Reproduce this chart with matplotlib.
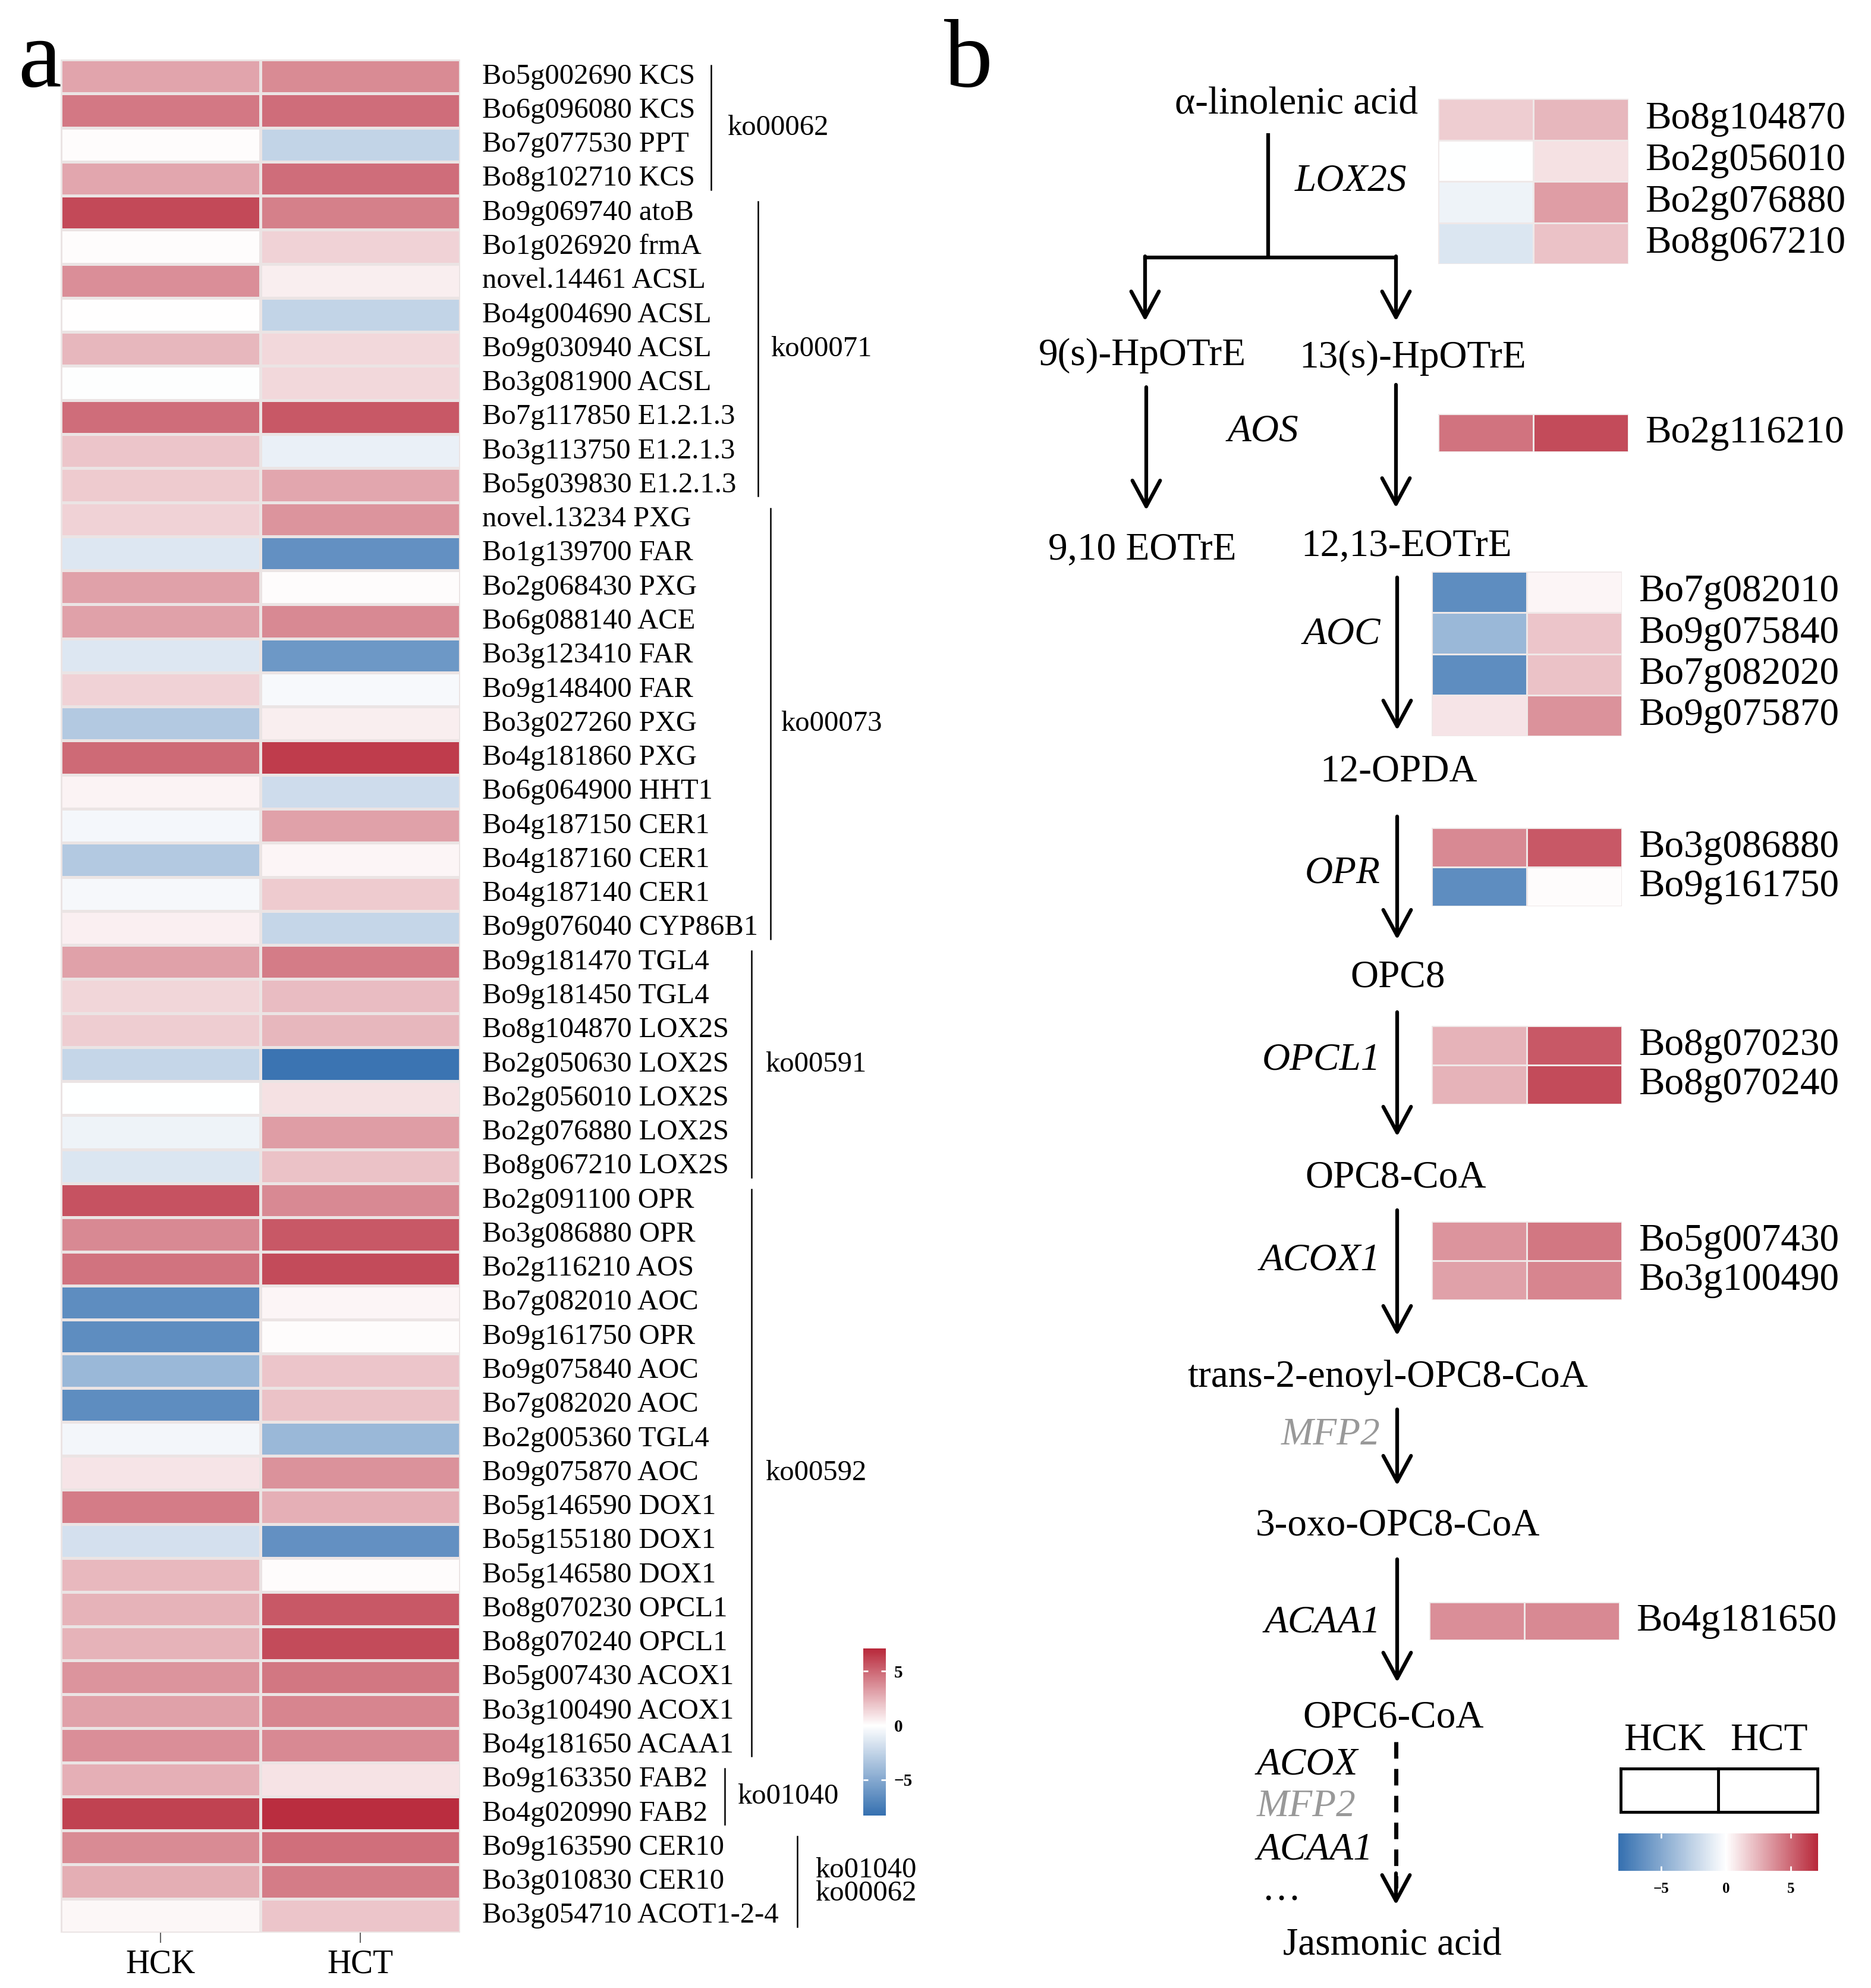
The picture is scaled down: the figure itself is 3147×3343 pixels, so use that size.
import numpy as np
import matplotlib
matplotlib.use("Agg")
import matplotlib.pyplot as plt
import matplotlib.transforms as mtransforms
from matplotlib.colors import LinearSegmentedColormap, Normalize

plt.rcParams['font.family'] = ['Liberation Serif', 'DejaVu Serif']

# ---- data (log2 fold values) ----
gene_ids = ['Bo5g002690', 'Bo6g096080', 'Bo7g077530', 'Bo8g102710', 'Bo9g069740',
            'Bo1g026920', 'novel.14461', 'Bo4g004690', 'Bo9g030940', 'Bo3g081900',
            'Bo7g117850', 'Bo3g113750', 'Bo5g039830', 'novel.13234', 'Bo1g139700',
            'Bo2g068430', 'Bo6g088140', 'Bo3g123410', 'Bo9g148400', 'Bo3g027260',
            'Bo4g181860', 'Bo6g064900', 'Bo4g187150', 'Bo4g187160', 'Bo4g187140',
            'Bo9g076040', 'Bo9g181470', 'Bo9g181450', 'Bo8g104870', 'Bo2g050630',
            'Bo2g056010', 'Bo2g076880', 'Bo8g067210', 'Bo2g091100', 'Bo3g086880',
            'Bo2g116210', 'Bo7g082010', 'Bo9g161750', 'Bo9g075840', 'Bo7g082020',
            'Bo2g005360', 'Bo9g075870', 'Bo5g146590', 'Bo5g155180', 'Bo5g146580',
            'Bo8g070230', 'Bo8g070240', 'Bo5g007430', 'Bo3g100490', 'Bo4g181650',
            'Bo9g163350', 'Bo4g020990', 'Bo9g163590', 'Bo3g010830', 'Bo3g054710']
gene_names = ['KCS', 'KCS', 'PPT', 'KCS', 'atoB',
              'frmA', 'ACSL', 'ACSL', 'ACSL', 'ACSL',
              'E1.2.1.3', 'E1.2.1.3', 'E1.2.1.3', 'PXG', 'FAR',
              'PXG', 'ACE', 'FAR', 'FAR', 'PXG',
              'PXG', 'HHT1', 'CER1', 'CER1', 'CER1',
              'CYP86B1', 'TGL4', 'TGL4', 'LOX2S', 'LOX2S',
              'LOX2S', 'LOX2S', 'LOX2S', 'OPR', 'OPR',
              'AOS', 'AOC', 'OPR', 'AOC', 'AOC',
              'TGL4', 'AOC', 'DOX1', 'DOX1', 'DOX1',
              'OPCL1', 'OPCL1', 'ACOX1', 'ACOX1', 'ACAA1',
              'FAB2', 'FAB2', 'CER10', 'CER10', 'ACOT1-2-4']
hck = [3.0, 4.4, 0.1, 2.9, 6.0,
       0.1, 3.7, 0.05, 2.4, -0.1,
       4.8, 1.9, 1.7, 1.5, -1.4,
       3.1, 3.1, -1.4, 1.5, -3.1,
       4.9, 0.4, -0.45, -3.1, -0.4,
       0.5, 3.1, 1.35, 1.65, -2.4,
       0.0, -0.7, -1.5, 5.7, 3.9,
       4.6, -6.6, -6.6, -4.1, -6.6,
       -0.5, 0.9, 4.3, -1.8, 2.3,
       2.5, 2.5, 3.5, 3.1, 3.7,
       2.6, 6.2, 3.85, 2.7, 0.3]
hct = [3.8, 4.8, -2.5, 4.8, 4.2,
       1.5, 0.6, -2.5, 1.3, 1.3,
       5.5, -0.9, 2.9, 3.5, -6.4,
       0.1, 3.9, -6.0, -0.3, 0.6,
       6.4, -2.0, 3.1, 0.35, 1.7,
       -2.4, 4.3, 2.2, 2.4, -8.0,
       1.0, 3.2, 2.0, 3.9, 5.5,
       5.9, 0.35, 0.1, 1.9, 2.0,
       -4.1, 3.6, 2.6, -6.4, 0.1,
       5.5, 5.9, 4.5, 4.0, 3.9,
       0.95, 6.9, 4.7, 4.3, 1.9]
samples = ['HCK', 'HCT']
groups = ['ko00062', 'ko00071', 'ko00073', 'ko00591', 'ko00592', 'ko01040', 'ko01040\nko00062']
group_sizes = [4, 9, 13, 7, 17, 2, 3]
cbar_ticks = [-5, 0, 5]

# pathway panel gene sets
lox_genes = ['Bo8g104870', 'Bo2g056010', 'Bo2g076880', 'Bo8g067210']
aos_genes = ['Bo2g116210']
aoc_genes = ['Bo7g082010', 'Bo9g075840', 'Bo7g082020', 'Bo9g075870']
opr_genes = ['Bo3g086880', 'Bo9g161750']
opcl_genes = ['Bo8g070230', 'Bo8g070240']
acox_genes = ['Bo5g007430', 'Bo3g100490']
acaa_genes = ['Bo4g181650']

W, H = 3147, 3343
vmin, vmax = -8.3, 7.1
zpos = -vmin / (vmax - vmin)
cmap = LinearSegmentedColormap.from_list(
    'rb', [(0, '#3570b0'), (zpos, '#ffffff'), (1, '#b8283a')])
norm = Normalize(vmin=vmin, vmax=vmax)

fig = plt.figure(figsize=(W / 100, H / 100), dpi=100)
ov = fig.add_axes([0, 0, 1, 1])
ov.set_xlim(0, W)
ov.set_ylim(H, 0)
ov.axis('off')


def px_axes(x0, y0, x1, y1):
    return fig.add_axes([x0 / W, 1 - y1 / H, (x1 - x0) / W, (y1 - y0) / H])


# ---------------- panel a ----------------
hx0, hx1 = 102, 774
hm = px_axes(hx0, 100, hx1, 3250)
data = np.column_stack([hck, hct])
n = len(gene_ids)
hm.pcolormesh(data, cmap=cmap, norm=norm, edgecolors='#ebe4e4', linewidth=2.5)
hm.set_xlim(0, 2)
hm.set_ylim(n, 0)
hm.set_xticks([0.5, 1.5])
hm.set_xticklabels(samples, fontsize=40)
hm.set_yticks([])
hm.tick_params(axis='x', length=12, width=1.5, color='#666666', pad=8)
for s in hm.spines.values():
    s.set_visible(False)

tr = mtransforms.blended_transform_factory(hm.transAxes, hm.transData)
def axx(px):
    return (px - hx0) / (hx1 - hx0)

for i in range(n):
    hm.text(axx(811), i + 0.5, gene_ids[i] + ' ' + gene_names[i], transform=tr,
            va='center', ha='left', fontsize=35)

line_px = [1196, 1275, 1296, 1264, 1264, 1219, 1341]
text_px = [1223, 1296, 1313, 1287, 1287, 1240, 1371]
start = 0
for g, sz, lx, tx in zip(groups, group_sizes, line_px, text_px):
    hm.plot([axx(lx), axx(lx)], [start + 0.18, start + sz - 0.18], transform=tr,
            color='black', lw=1.8, clip_on=False)
    hm.text(axx(tx), start + sz / 2, g, transform=tr, va='center', ha='left',
            fontsize=35, linespacing=0.85)
    start += sz

cax = px_axes(1452, 2772, 1490, 3053)
sm = plt.cm.ScalarMappable(cmap=cmap, norm=norm)
cb = fig.colorbar(sm, cax=cax, ticks=cbar_ticks)
cb.outline.set_visible(False)
cb.ax.set_yticklabels(['\u22125', '0', '5'], fontsize=21, fontweight='bold')
cb.ax.tick_params(direction='in', color='white', width=2, length=6,
                  left=True, right=True, pad=10)

ov.text(30, 145, 'a', fontsize=118, ha='left', va='baseline')

# ---------------- panel b ----------------
ov.text(1588, 145, 'b', fontsize=118, ha='left', va='baseline')

vals = {g: (a, b) for g, a, b in zip(gene_ids, hck, hct)}


def mini_heat(genes, x0, x1, y0, y1):
    a = px_axes(x0, y0, x1, y1)
    d = np.array([vals[g] for g in genes])
    a.pcolormesh(d, cmap=cmap, norm=norm, edgecolors='#efe8e8', linewidth=2)
    a.set_xlim(0, 2)
    a.set_ylim(len(genes), 0)
    a.axis('off')
    rh = (y1 - y0) / len(genes)
    for k, g in enumerate(genes):
        ov.text(x1 + 28, y0 + (k + 0.5) * rh, g, fontsize=47, va='center', ha='left')


mini_heat(lox_genes, 2419, 2739, 166, 444)
mini_heat(aos_genes, 2419, 2739, 696, 760)
mini_heat(aoc_genes, 2408, 2728, 961, 1238)
mini_heat(opr_genes, 2408, 2728, 1392, 1524)
mini_heat(opcl_genes, 2408, 2728, 1725, 1857)
mini_heat(acox_genes, 2408, 2728, 2054, 2186)
mini_heat(acaa_genes, 2404, 2724, 2694, 2758)

LW = 4.5


def arrow(x, y0, y1):
    ov.annotate('', xy=(x, y1), xytext=(x, y0),
                arrowprops=dict(arrowstyle='->,head_length=0.78,head_width=0.42',
                                lw=LW, color='black', mutation_scale=40,
                                shrinkA=0, shrinkB=0))


fs = 47
# compounds
ov.text(2180, 175, '\u03b1-linolenic acid', fontsize=fs, ha='center', va='center')
ov.text(1921, 598, '9(s)-HpOTrE', fontsize=fs, ha='center', va='center')
ov.text(2376, 602, '13(s)-HpOTrE', fontsize=fs, ha='center', va='center')
ov.text(1921, 924, '9,10 EOTrE', fontsize=fs, ha='center', va='center')
ov.text(2366, 918, '12,13-EOTrE', fontsize=fs, ha='center', va='center')
ov.text(2353, 1298, '12-OPDA', fontsize=fs, ha='center', va='center')
ov.text(2351, 1644, 'OPC8', fontsize=fs, ha='center', va='center')
ov.text(2348, 1981, 'OPC8-CoA', fontsize=fs, ha='center', va='center')
ov.text(2334, 2316, 'trans-2-enoyl-OPC8-CoA', fontsize=fs, ha='center', va='center')
ov.text(2351, 2566, '3-oxo-OPC8-CoA', fontsize=fs, ha='center', va='center')
ov.text(2344, 2889, 'OPC6-CoA', fontsize=fs, ha='center', va='center')
ov.text(2342, 3271, 'Jasmonic acid', fontsize=fs, ha='center', va='center')

# enzymes
ov.text(2272, 305, 'LOX2S', fontsize=fs, style='italic', ha='center', va='center')
ov.text(2124, 726, 'AOS', fontsize=fs, style='italic', ha='center', va='center')
for name, y, col in [('AOC', 1067, 'black'), ('OPR', 1469, 'black'),
                     ('OPCL1', 1783, 'black'), ('ACOX1', 2120, 'black'),
                     ('MFP2', 2413, '#999999'), ('ACAA1', 2729, 'black')]:
    ov.text(2322, y, name, fontsize=fs, style='italic', ha='right', va='center', color=col)
for name, y, col in [('ACOX', 2968, 'black'), ('MFP2', 3038, '#999999'),
                     ('ACAA1', 3111, 'black')]:
    ov.text(2114, y, name, fontsize=fs, style='italic', ha='left', va='center', color=col)
ov.text(2122, 3180, '\u2026', fontsize=fs, ha='left', va='center')

# connectors
ov.plot([2133, 2133], [224, 433], color='black', lw=LW, solid_capstyle='butt')
ov.plot([1926, 2348], [433, 433], color='black', lw=LW, solid_capstyle='projecting')
arrow(1926, 431, 540)
arrow(2348, 431, 540)
arrow(1928, 651, 858)
arrow(2348, 647, 854)
arrow(2350, 971, 1228)
arrow(2350, 1373, 1580)
arrow(2350, 1702, 1911)
arrow(2350, 2035, 2246)
arrow(2350, 2370, 2498)
arrow(2350, 2622, 2829)
ov.plot([2348, 2348], [2929, 3175], color='black', lw=LW + 0.5, ls=(0, (4, 2.5)))
arrow(2348, 3150, 3203)

# legend box
ov.text(2800, 2927, 'HCK', fontsize=fs, ha='center', va='center')
ov.text(2975, 2927, 'HCT', fontsize=fs, ha='center', va='center')
ov.plot([2726, 3057, 3057, 2726, 2726], [2974, 2974, 3047, 3047, 2974],
        color='black', lw=3.5, solid_joinstyle='miter')
ov.plot([2890, 2890], [2974, 3047], color='black', lw=3.5)

cbx = px_axes(2722, 3083, 3058, 3146)
cb2 = fig.colorbar(sm, cax=cbx, orientation='horizontal', ticks=cbar_ticks)
cb2.outline.set_visible(False)
cb2.ax.set_xticklabels(['\u22125', '0', '5'], fontsize=18, fontweight='bold')
cb2.ax.tick_params(direction='in', color='white', width=2, length=6,
                   top=True, bottom=True, pad=14)

fig.savefig('out.png', dpi=100)
